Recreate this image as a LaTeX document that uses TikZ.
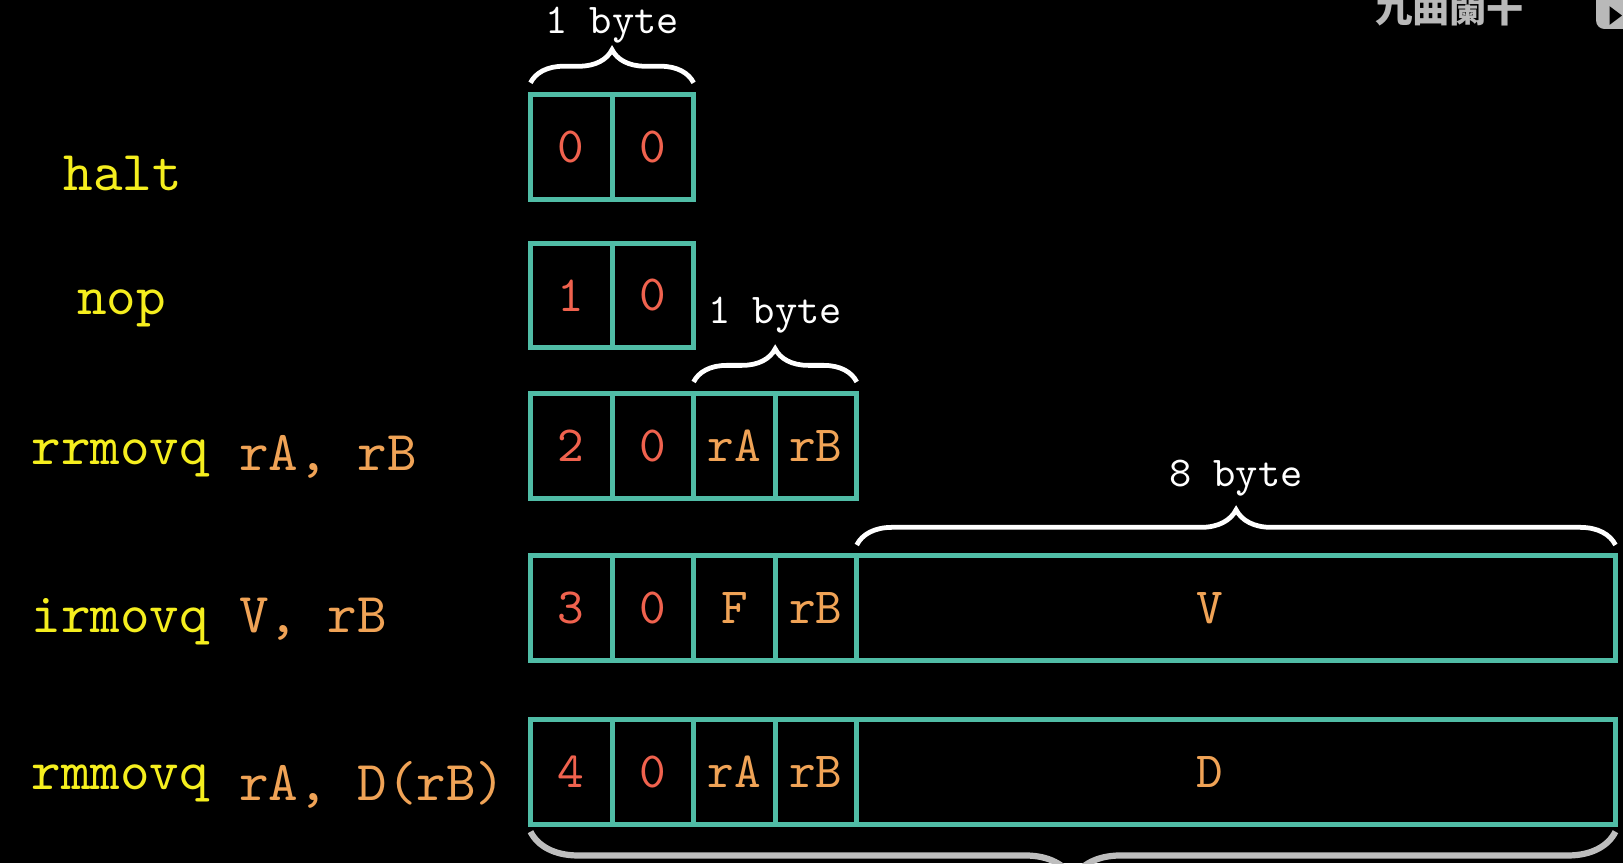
\documentclass[tikz,border=0pt]{standalone}
\usepackage{fontspec}
\setmonofont{lmmono10-regular.otf}
\newfontfamily\cjk{Noto Sans CJK TC}
\usetikzlibrary{positioning,decorations.pathreplacing}
\definecolor{cellteal}{RGB}{80,188,166}
\definecolor{digitred}{RGB}{240,98,78}
\definecolor{operorange}{RGB}{240,163,86}
\definecolor{mnemyellow}{RGB}{245,238,30}
\definecolor{bracegray}{RGB}{190,190,190}
\definecolor{markgray}{RGB}{185,185,185}
\tikzset{
  cell/.style={draw=cellteal, line width=2.4pt, minimum width=39.4pt, minimum height=50.5pt,
    inner sep=0pt, outer sep=0pt, text=digitred, font=\ttfamily\fontsize{24.5}{24.5}\selectfont},
  cellop/.style={cell, text=operorange},
  widecell/.style={cell, minimum width=366.5pt},
  celltext/.style={inner sep=0pt, text=operorange, font=\ttfamily\fontsize{24.5}{24.5}\selectfont},
  mnem/.style={anchor=base west, inner sep=0pt, text=mnemyellow, font=\ttfamily\fontsize{27.2}{27.2}\selectfont},
  oper/.style={mnem, text=operorange},
  bytelbl/.style={anchor=base, inner sep=0pt, text=white, font=\ttfamily\fontsize{20.5}{20.5}\selectfont},
  bytebrace/.style={decorate, decoration={brace, amplitude=#1}, white, line width=2.3pt},
  allbrace/.style={decorate, decoration={brace, mirror, amplitude=23pt}, bracegray, line width=3pt}
}
\begin{document}
\begin{tikzpicture}[x=0.5pt,y=0.5pt]
\fill[black] (0,0) rectangle (1568,834);
\useasboundingbox (0,0) rectangle (1568,834);
% watermark
\node[anchor=base west, inner sep=0pt, text=markgray, font=\fontsize{18}{18}\cjk\bfseries] (mark) at (1328,812) {九曲闌干};
\fill[markgray, rounded corners=4pt] (1542,806) rectangle (1600,850);
\fill[black] (1555,828) -- (1555,810) -- (1567,819) -- cycle;
% halt
\node[mnem] (lhalt) at (61,650) {halt};
\node[cell] (halt0) at (551.9,692) {0};
\node[cell, right=0pt of halt0] (halt1) {0};
% nop
\node[mnem] (lnop) at (74,530) {nop};
\node[cell] (nop0) at (551.9,548.5) {1};
\node[cell, right=0pt of nop0] (nop1) {0};
% rrmovq
\node[mnem] (lrr) at (30,385) {rrmovq};
\node[oper] (orr) at ([xshift=14.3pt,yshift=-2.75pt]lrr.base east) {rA, rB};
\node[cell] (rr0) at (551.9,403) {2};
\node[cell, right=0pt of rr0] (rr1) {0};
\node[cellop, right=0pt of rr1] (rr2) {rA};
\node[cellop, right=0pt of rr2] (rr3) {rB};
% irmovq
\node[mnem] (lir) at (30,223) {irmovq};
\node[oper] (oir) at ([xshift=14.3pt]lir.base east) {V, rB};
\node[cell] (ir0) at (551.9,246.5) {3};
\node[cell, right=0pt of ir0] (ir1) {0};
\node[cellop, right=0pt of ir1] (ir2) {F};
\node[cellop, right=0pt of ir2] (ir3) {rB};
\node[widecell, right=0pt of ir3] (ir4) {};
\node[celltext] (vtext) at ([xshift=-12.5pt]ir4.center) {V};
% rmmovq
\node[mnem] (lrm) at (30,71) {rmmovq};
\node[oper] (orm) at ([xshift=14.3pt,yshift=-5pt]lrm.base east) {rA, D(rB)};
\node[cell] (rm0) at (551.9,88) {4};
\node[cell, right=0pt of rm0] (rm1) {0};
\node[cellop, right=0pt of rm1] (rm2) {rA};
\node[cellop, right=0pt of rm2] (rm3) {rB};
\node[widecell, right=0pt of rm3] (rm4) {};
\node[celltext] (dtext) at ([xshift=-12.5pt]rm4.center) {D};
% braces
\draw[bytebrace=16pt] ([yshift=5.75pt]halt0.north west) -- ([yshift=5.75pt]halt1.north east);
\node[bytelbl] (byte1) at (591.3,802) {1 byte};
\draw[bytebrace=16pt] ([yshift=5.75pt]rr2.north west) -- ([yshift=5.75pt]rr3.north east);
\node[bytelbl] (byte2) at (748.8,521) {1 byte};
\draw[bytebrace=17pt] ([yshift=5.25pt]ir4.north west) -- ([yshift=5.25pt]ir4.north east);
\node[bytelbl] (byte8) at (1194,364) {8 byte};
\draw[allbrace] ([yshift=-3.5pt]rm0.south west) -- ([yshift=-3.5pt]rm4.south east);
\end{tikzpicture}
\end{document}
